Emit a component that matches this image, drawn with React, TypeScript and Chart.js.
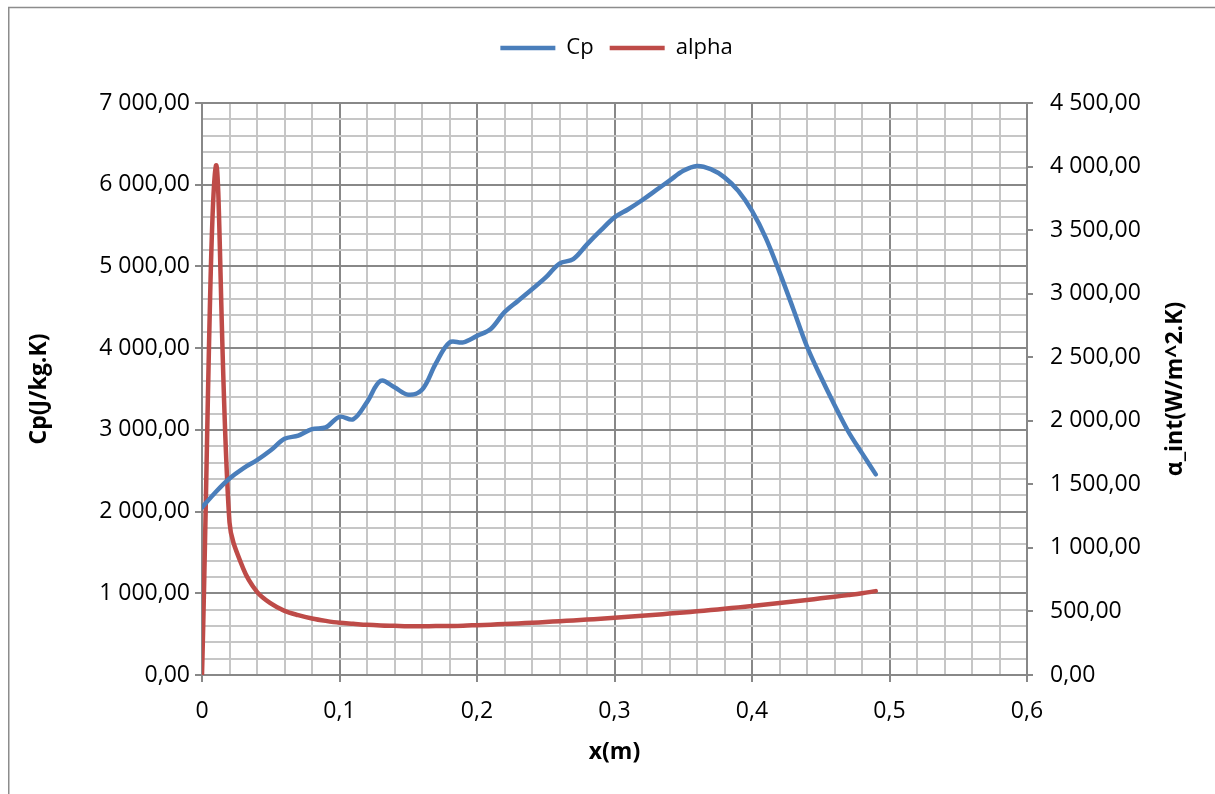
import { useEffect, useRef } from 'react';
import { Chart, registerables } from 'chart.js';

Chart.register(...registerables);

const xValues = [
  0, 0.01, 0.02, 0.03, 0.04, 0.05, 0.06, 0.07, 0.08, 0.09,
  0.1, 0.11, 0.12, 0.13, 0.14, 0.15, 0.16, 0.17, 0.18, 0.19,
  0.2, 0.21, 0.22, 0.23, 0.24, 0.25, 0.26, 0.27, 0.28, 0.29,
  0.3, 0.31, 0.32, 0.33, 0.34, 0.35, 0.36, 0.37, 0.38, 0.39,
  0.4, 0.41, 0.42, 0.43, 0.44, 0.45, 0.46, 0.47, 0.48, 0.49,
];

const cpValues = [
  2050, 2240, 2405, 2530, 2630, 2750, 2890, 2930, 3010, 3030,
  3160, 3130, 3340, 3600, 3520, 3430, 3490, 3810, 4070, 4070,
  4150, 4235, 4440, 4580, 4720, 4865, 5035, 5090, 5270, 5440,
  5600, 5700, 5810, 5930, 6050, 6170, 6230, 6190, 6090, 5925,
  5680, 5350, 4930, 4480, 4020, 3650, 3305, 2980, 2715, 2455,
];

const alphaValues = [
  0, 4000, 1200, 837, 654, 563, 505, 471, 445, 426,
  411, 403, 395, 390, 387, 384, 384, 385, 386, 388,
  392, 396, 401, 406, 411, 417, 423, 429, 436, 443,
  450, 458, 466, 474, 483, 492, 501, 511, 521, 532,
  543, 554, 566, 578, 590, 603, 616, 629, 643, 660,
];

const seriesNames = ['Cp', 'alpha'];
const xTitle = 'x(m)';
const leftTitle = 'Cp(J/kg.K)';
const rightTitle = 'α_int(W/m^2.K)';

const FONT = "'Open Sans', sans-serif";
const TICK_SIZE = 23;
const MAJOR = '#888888';
const MINOR = '#c6c6c6';

function fmtThousands(v: number): string {
  const s = String(Math.round(v)).replace(/\B(?=(\d{3})+(?!\d))/g, ' ');
  return s + ',00';
}

function isMajorX(v: number): boolean {
  return Math.round(v * 100) % 10 === 0;
}

export default function App() {
  const canvasRef = useRef<HTMLCanvasElement | null>(null);

  useEffect(() => {
    const canvas = canvasRef.current;
    if (!canvas) return;

    const legendSpacer = {
      id: 'legendSpacer',
      beforeInit(chart: any) {
        const legend = chart.legend;
        if (!legend) return;
        const fit = legend.fit;
        legend.fit = function () {
          fit.call(this);
          this.height += 34;
        };
      },
      afterLayout(chart: any) {
        const legend = chart.legend;
        if (!legend) return;
        legend.left += 10;
        legend.right += 10;
      },
    };

    const frame = {
      id: 'frame',
      beforeDraw(chart: any) {
        const ctx = chart.ctx;
        ctx.save();
        ctx.strokeStyle = '#8c8c8c';
        ctx.lineWidth = 1.5;
        ctx.beginPath();
        ctx.moveTo(8.75, chart.height);
        ctx.lineTo(8.75, 7.5);
        ctx.lineTo(chart.width, 7.5);
        ctx.stroke();
        ctx.restore();
      },
      afterDraw(chart: any) {
        const s = chart.scales.y1;
        const ctx = chart.ctx;
        const area = chart.chartArea;
        ctx.save();
        ctx.translate(s.right - 12, (area.top + area.bottom) / 2);
        ctx.rotate(-Math.PI / 2);
        ctx.font = `bold 23px ${FONT}`;
        ctx.textAlign = 'center';
        ctx.textBaseline = 'middle';
        ctx.fillStyle = '#000';
        ctx.fillText(rightTitle, 0, 0);
        ctx.restore();
      },
    };

    const chart = new Chart(canvas, {
      type: 'line',
      data: {
        datasets: [
          {
            label: seriesNames[0],
            data: xValues.map((x, i) => ({ x, y: cpValues[i] })),
            borderColor: '#4a7ebb',
            backgroundColor: '#4a7ebb',
            borderWidth: 4.5,
            borderCapStyle: 'round',
            pointRadius: 0,
            tension: 0.35,
            yAxisID: 'y',
          },
          {
            label: seriesNames[1],
            data: xValues.map((x, i) => ({ x, y: alphaValues[i] })),
            borderColor: '#be4b48',
            backgroundColor: '#be4b48',
            borderWidth: 4.5,
            borderCapStyle: 'round',
            pointRadius: 0,
            tension: 0.35,
            yAxisID: 'y1',
          },
        ],
      },
      options: {
        responsive: false,
        animation: false,
        layout: { padding: { left: 26, right: 28, top: 21, bottom: 28 } },
        plugins: {
          legend: {
            display: true,
            position: 'top',
            labels: {
              usePointStyle: true,
              pointStyle: 'line',
              pointStyleWidth: 55,
              padding: 16,
              color: '#000',
              font: { family: FONT, size: 22 },
            },
          },
          tooltip: { enabled: false },
        },
        scales: {
          x: {
            type: 'linear',
            min: 0,
            max: 0.6,
            afterFit(scale: any) {
              scale.height = 91;
            },
            ticks: {
              stepSize: 0.02,
              autoSkip: false,
              maxRotation: 0,
              padding: 16,
              color: '#000',
              font: { family: FONT, size: TICK_SIZE },
              callback: (v: any) => {
                const n = Number(v);
                if (!isMajorX(n)) return '';
                return String(Math.round(n * 10) / 10).replace('.', ',');
              },
            },
            grid: {
              color: (c: any) => (isMajorX(c.tick.value) ? MAJOR : MINOR),
              tickColor: (c: any) => (isMajorX(c.tick.value) ? MAJOR : 'rgba(0,0,0,0)'),
              lineWidth: 2,
              tickLength: 7,
            },
            border: { display: true, color: MAJOR, width: 2 },
            title: {
              display: true,
              text: xTitle,
              color: '#000',
              padding: 0,
              font: { family: FONT, size: TICK_SIZE, weight: 'bold' },
            },
          },
          y: {
            type: 'linear',
            position: 'left',
            min: 0,
            max: 7000,
            afterFit(scale: any) {
              scale.width = 176;
            },
            ticks: {
              stepSize: 200,
              autoSkip: false,
              padding: 5,
              color: '#000',
              font: { family: FONT, size: TICK_SIZE },
              callback: (v: any) => {
                const n = Number(v);
                if (Math.round(n) % 1000 !== 0) return '';
                return fmtThousands(n);
              },
            },
            grid: {
              color: (c: any) => (Math.round(c.tick.value) % 1000 === 0 ? MAJOR : MINOR),
              tickColor: (c: any) =>
                Math.round(c.tick.value) % 1000 === 0 ? MAJOR : 'rgba(0,0,0,0)',
              lineWidth: 2,
              tickLength: 7,
            },
            border: { display: true, color: MAJOR, width: 2 },
            title: {
              display: true,
              text: leftTitle,
              color: '#000',
              padding: 0,
              font: { family: FONT, size: TICK_SIZE, weight: 'bold' },
            },
          },
          y1: {
            type: 'linear',
            position: 'right',
            min: 0,
            max: 4500,
            afterFit(scale: any) {
              scale.width = 160;
            },
            ticks: {
              stepSize: 500,
              autoSkip: false,
              padding: 17,
              color: '#000',
              font: { family: FONT, size: TICK_SIZE },
              callback: (v: any) => fmtThousands(Number(v)),
            },
            grid: {
              drawOnChartArea: false,
              color: MAJOR,
              tickColor: MAJOR,
              lineWidth: 2,
              tickLength: 6,
            },
            border: { display: true, color: MAJOR, width: 2 },
            title: { display: false },
          },
        },
      },
      plugins: [legendSpacer, frame],
    } as any);

    return () => {
      chart.destroy();
    };
  }, []);

  return (
    <div style={{ position: 'fixed', left: 0, top: 0, width: 1215, height: 794, background: '#fff' }}>
      <canvas ref={canvasRef} width={1215} height={794} style={{ display: 'block' }} />
    </div>
  );
}
